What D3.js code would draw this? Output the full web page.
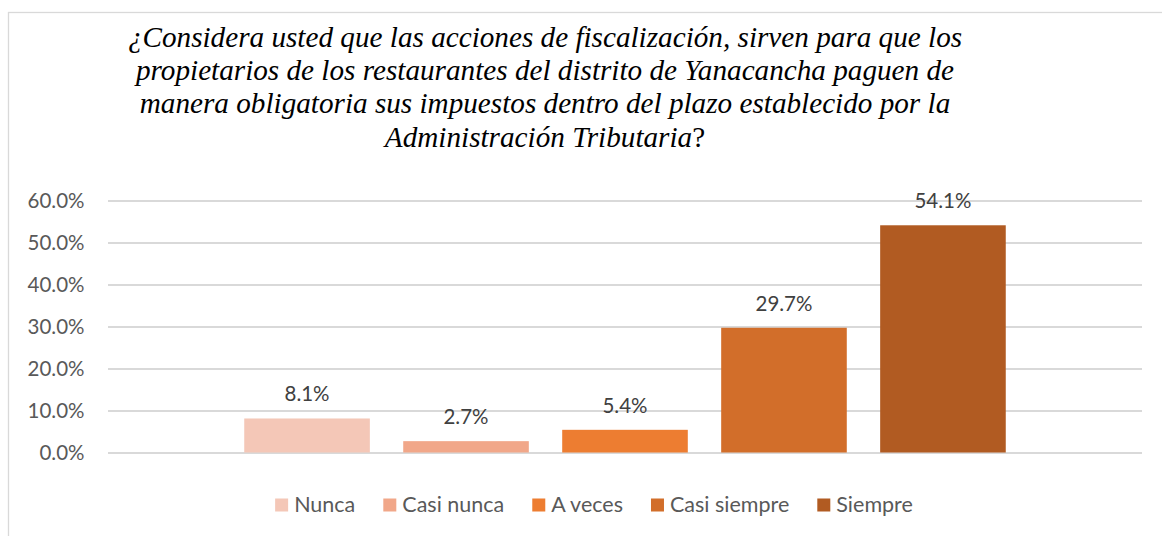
<!DOCTYPE html>
<html lang="es">
<head>
	<meta charset="UTF-8">
	<title>Acciones de fiscalización</title>
	<script src="https://cdn.jsdelivr.net/npm/d3@7"></script>
	<style type="text/css">
		body { margin: 0; background: #fff; }
		.grid line { stroke: #d9d9d9; stroke-width: 1.3; shape-rendering: crispEdges; }
		.grid path { stroke-width: 0; }
	</style>
</head>
<body>
	<script type="text/javascript">

		// datos
		var categorias = ["Nunca", "Casi nunca", "A veces", "Casi siempre", "Siempre"];
		var valores = [8.1, 2.7, 5.4, 29.7, 54.1];
		var yTicks = [0, 10, 20, 30, 40, 50, 60];
		var titulo = [
			"¿Considera usted que las acciones de fiscalización, sirven para que los",
			"propietarios de los restaurantes del distrito de Yanacancha paguen de",
			"manera obligatoria sus impuestos dentro del plazo establecido por la",
			"Administración Tributaria"
		];

		var draw = () => {
		  const W = 1162, H = 536;
		  const margin = {top: 200.5, right: 20, bottom: 83.5, left: 108};

		  const svg = d3.select("body").append("svg")
		    .attr("width", W)
		    .attr("height", H);

		  // borde del gráfico
		  svg.append("rect")
		    .attr("x", 8.5).attr("y", 12.5)
		    .attr("width", 1300).attr("height", 700)
		    .style("fill", "none")
		    .style("stroke", "#d9d9d9")
		    .style("stroke-width", 1.3);

		  const x = d3.scaleBand()
		    .domain(categorias)
		    .range([margin.left, 1142])
		    .paddingInner(0.21)
		    .paddingOuter(0.857);

		  const y = d3.scaleLinear()
		    .domain([0, 60])
		    .range([H - margin.bottom, margin.top]);

		  const z = d3.scaleOrdinal()
		    .domain(categorias)
		    .range(["#f4c7b7", "#f1a789", "#ed7d31", "#d26e2a", "#b15b22"]);

		  // titulo
		  const t = svg.append("text")
		    .attr("text-anchor", "middle")
		    .style("font-family", "'Liberation Serif', 'Times New Roman', serif")
		    .style("font-style", "italic")
		    .style("font-size", "29.2px")
		    .style("fill", "#000");
		  titulo.forEach((linea, i) => {
		    const ts = t.append("tspan")
		      .attr("x", 545)
		      .attr("y", 47 + i * 33.2)
		      .text(linea);
		    if (i == titulo.length - 1) {
		      t.append("tspan").style("font-style", "normal").text("?");
		    }
		  });

		  // gridlines
		  svg.append("g")
		    .attr("class", "grid")
		    .attr("transform", `translate(${margin.left},0)`)
		    .call(d3.axisLeft(y)
		      .tickValues(yTicks)
		      .tickSize(-(1142 - margin.left))
		      .tickFormat(""));

		  // eje y
		  const ay = svg.append("g")
		    .attr("transform", `translate(84.5,0)`)
		    .call(d3.axisLeft(y).tickValues(yTicks).tickSize(0).tickPadding(0)
		      .tickFormat(d => d.toFixed(1) + "%"));
		  ay.select(".domain").remove();
		  ay.selectAll("text")
		    .style("font-family", "Lato, sans-serif")
		    .style("font-size", "20.5px")
		    .style("fill", "#595959");

		  // barras
		  svg.selectAll("rect.bar")
		    .data(categorias).enter()
		    .append("rect")
		    .attr("class", "bar")
		    .attr("x", d => x(d))
		    .attr("y", (d, i) => y(valores[i]))
		    .attr("width", x.bandwidth())
		    .attr("height", (d, i) => y(0) - y(valores[i]))
		    .style("fill", d => z(d));

		  // etiquetas
		  svg.selectAll("text.lbl")
		    .data(categorias).enter()
		    .append("text")
		    .attr("class", "lbl")
		    .attr("x", d => x(d) + x.bandwidth() / 2)
		    .attr("y", (d, i) => y(valores[i]) - 17)
		    .attr("text-anchor", "middle")
		    .style("font-family", "Lato, sans-serif")
		    .style("font-size", "20.5px")
		    .style("fill", "#404040")
		    .text((d, i) => valores[i].toFixed(1) + "%");

		  // leyenda
		  const legend = svg.append("g")
		    .style("font-family", "Lato, sans-serif")
		    .style("font-size", "21.5px");
		  let pos = 0;
		  categorias.forEach(c => {
		    const g = legend.append("g").attr("transform", `translate(${pos},0)`);
		    g.append("rect")
		      .attr("y", 498.5)
		      .attr("width", 13).attr("height", 13)
		      .style("fill", z(c));
		    const tx = g.append("text")
		      .attr("x", 19)
		      .attr("y", 511.5)
		      .style("fill", "#595959")
		      .text(c);
		    pos += 19 + tx.node().getComputedTextLength() + 28;
		  });
		  const lw = pos - 28;
		  legend.attr("transform", `translate(${594 - lw / 2},0)`);

		  return svg.node();
		};

		draw();
	</script>
</body>
</html>
